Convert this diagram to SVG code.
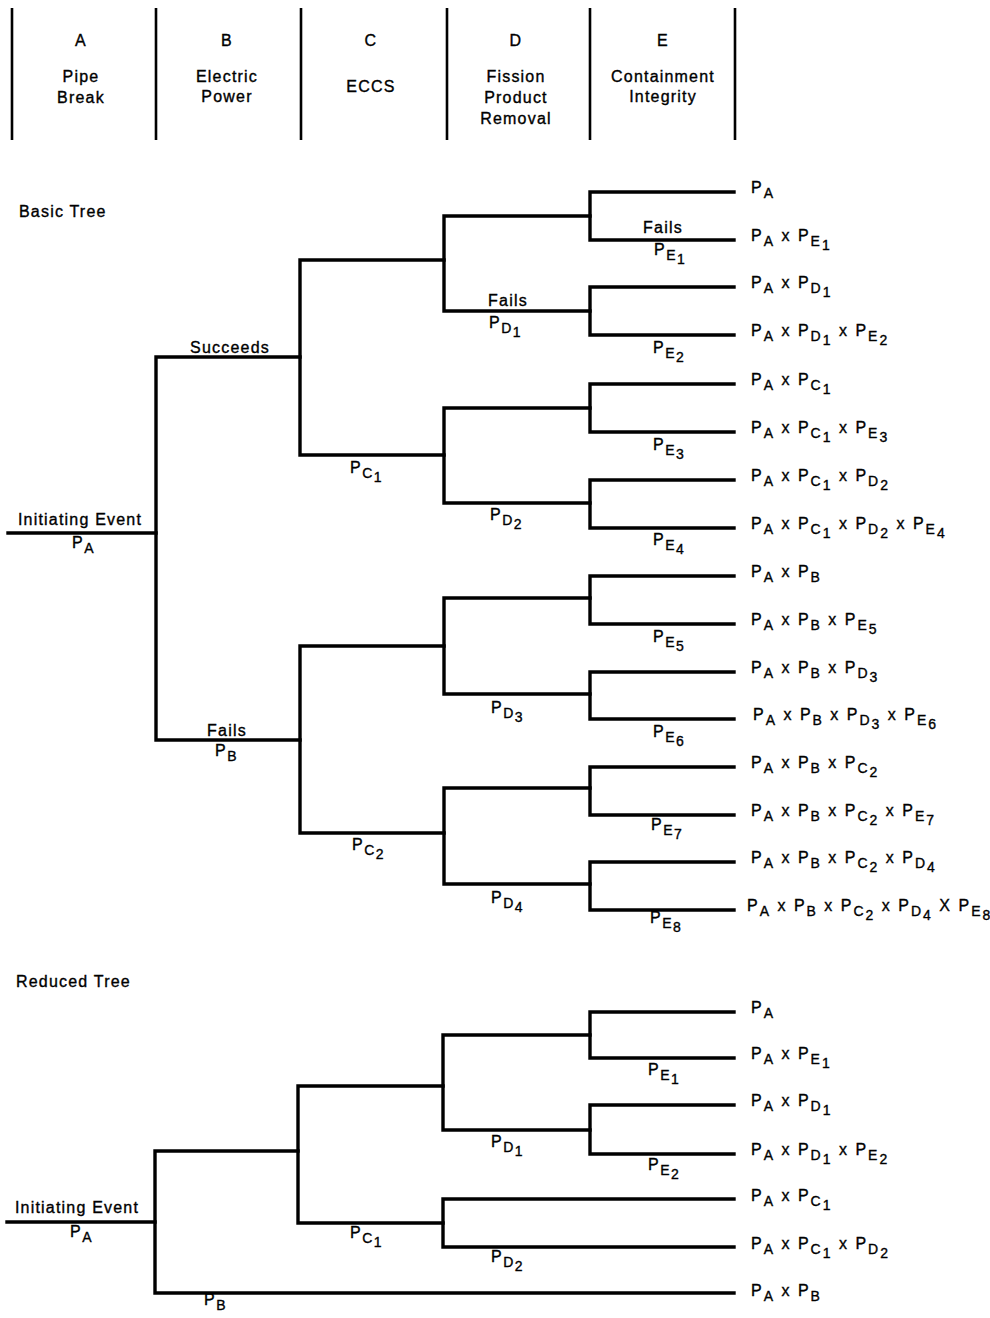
<svg xmlns="http://www.w3.org/2000/svg" width="990" height="1318" viewBox="0 0 990 1318">
<style>
text{font-family:"Liberation Sans",Arial,sans-serif;fill:#000;stroke:#000;stroke-width:0.35}
.t{font-size:16px;letter-spacing:1.2px}
.h{font-size:16px;letter-spacing:1.2px;text-anchor:middle}
.p{font-size:16px;letter-spacing:1.5px}
.o{font-size:16px;letter-spacing:2px}
.s{font-size:14px}
.ln{fill:none;stroke:#000;stroke-width:3.4;stroke-linejoin:miter;stroke-linecap:square}
.col{fill:none;stroke:#000;stroke-width:2.6}
</style>
<rect width="990" height="1318" fill="#fff"/>
<g id="header">
<path class="col" d="M12 8V140M156 8V140M301 8V140M447 8V140M590 8V140M735 8V140"/>
<g id="colA"><text class="h" x="81" y="46">A</text><text class="h" x="81" y="82">Pipe</text><text class="h" x="81" y="103">Break</text></g>
<g id="colB"><text class="h" x="227" y="46">B</text><text class="h" x="227" y="82">Electric</text><text class="h" x="227" y="102">Power</text></g>
<g id="colC"><text class="h" x="371" y="46">C</text><text class="h" x="371" y="92">ECCS</text></g>
<g id="colD"><text class="h" x="516" y="46">D</text><text class="h" x="516" y="82">Fission</text><text class="h" x="516" y="103">Product</text><text class="h" x="516" y="124">Removal</text></g>
<g id="colE"><text class="h" x="663" y="46">E</text><text class="h" x="663" y="82">Containment</text><text class="h" x="663" y="102">Integrity</text></g>
</g>
<g id="connectors">
<path class="ln" d="M8 533H156"/>
<path class="ln" d="M300 357H156V740H300"/>
<path class="ln" d="M444 260H300V455H444"/>
<path class="ln" d="M444 646H300V833H444"/>
<path class="ln" d="M590 216H444V311H590"/>
<path class="ln" d="M590 408H444V503H590"/>
<path class="ln" d="M590 598H444V694H590"/>
<path class="ln" d="M590 788H444V884H590"/>
<path class="ln" d="M734 192H590V240H734"/>
<path class="ln" d="M734 287H590V335H734"/>
<path class="ln" d="M734 384H590V432H734"/>
<path class="ln" d="M734 480H590V528H734"/>
<path class="ln" d="M734 576H590V624H734"/>
<path class="ln" d="M734 672H590V719H734"/>
<path class="ln" d="M734 767H590V815H734"/>
<path class="ln" d="M734 862H590V910H734"/>
<path class="ln" d="M7 1222H155"/>
<path class="ln" d="M298 1151H155V1293H734"/>
<path class="ln" d="M443 1086H298V1223H443"/>
<path class="ln" d="M590 1035H443V1130H590"/>
<path class="ln" d="M734 1012H590V1058H734"/>
<path class="ln" d="M734 1105H590V1154H734"/>
<path class="ln" d="M734 1199H443V1247H734"/>
</g>
<g id="basic-labels">
<text class="t" x="19" y="217">Basic Tree</text>
<g id="b-init"><text class="h" x="80" y="525">Initiating Event</text><text class="p" x="72" y="548">P<tspan class="s" dy="5">A</tspan></text></g>
<g id="b-succ"><text class="h" x="230" y="353">Succeeds</text></g>
<g id="b-fail"><text class="h" x="227" y="736">Fails</text><text class="p" x="215" y="756">P<tspan class="s" dy="5">B</tspan></text></g>
<g id="b-c1"><text class="p" x="350" y="473">P<tspan class="s" dy="5">C</tspan><tspan class="s" dy="4">1</tspan></text></g>
<g id="b-c2"><text class="p" x="352" y="850">P<tspan class="s" dy="5">C</tspan><tspan class="s" dy="4">2</tspan></text></g>
<g id="b-d1"><text class="h" x="508" y="306">Fails</text><text class="p" x="489" y="328">P<tspan class="s" dy="5">D</tspan><tspan class="s" dy="4">1</tspan></text></g>
<g id="b-d2"><text class="p" x="490" y="520">P<tspan class="s" dy="5">D</tspan><tspan class="s" dy="4">2</tspan></text></g>
<g id="b-d3"><text class="p" x="491" y="713">P<tspan class="s" dy="5">D</tspan><tspan class="s" dy="4">3</tspan></text></g>
<g id="b-d4"><text class="p" x="491" y="903">P<tspan class="s" dy="5">D</tspan><tspan class="s" dy="4">4</tspan></text></g>
<g id="b-e1"><text class="h" x="663" y="233">Fails</text><text class="p" x="654" y="255">P<tspan class="s" dy="5">E</tspan><tspan class="s" dy="4">1</tspan></text></g>
<g id="b-e2"><text class="p" x="653" y="353">P<tspan class="s" dy="5">E</tspan><tspan class="s" dy="4">2</tspan></text></g>
<g id="b-e3"><text class="p" x="653" y="450">P<tspan class="s" dy="5">E</tspan><tspan class="s" dy="4">3</tspan></text></g>
<g id="b-e4"><text class="p" x="653" y="545">P<tspan class="s" dy="5">E</tspan><tspan class="s" dy="4">4</tspan></text></g>
<g id="b-e5"><text class="p" x="653" y="642">P<tspan class="s" dy="5">E</tspan><tspan class="s" dy="4">5</tspan></text></g>
<g id="b-e6"><text class="p" x="653" y="737">P<tspan class="s" dy="5">E</tspan><tspan class="s" dy="4">6</tspan></text></g>
<g id="b-e7"><text class="p" x="651" y="830">P<tspan class="s" dy="5">E</tspan><tspan class="s" dy="4">7</tspan></text></g>
<g id="b-e8"><text class="p" x="650" y="923">P<tspan class="s" dy="5">E</tspan><tspan class="s" dy="4">8</tspan></text></g>
</g>
<g id="basic-outcomes">
<g id="o1"><text class="o" x="751" y="193">P<tspan class="s" dy="5">A</tspan></text></g>
<g id="o2"><text class="o" x="751" y="241">P<tspan class="s" dy="5">A</tspan><tspan dy="-5"> x P</tspan><tspan class="s" dy="5">E</tspan><tspan class="s" dy="4">1</tspan></text></g>
<g id="o3"><text class="o" x="751" y="288">P<tspan class="s" dy="5">A</tspan><tspan dy="-5"> x P</tspan><tspan class="s" dy="5">D</tspan><tspan class="s" dy="4">1</tspan></text></g>
<g id="o4"><text class="o" x="751" y="336">P<tspan class="s" dy="5">A</tspan><tspan dy="-5"> x P</tspan><tspan class="s" dy="5">D</tspan><tspan class="s" dy="4">1</tspan><tspan dy="-9"> x P</tspan><tspan class="s" dy="5">E</tspan><tspan class="s" dy="4">2</tspan></text></g>
<g id="o5"><text class="o" x="751" y="385">P<tspan class="s" dy="5">A</tspan><tspan dy="-5"> x P</tspan><tspan class="s" dy="5">C</tspan><tspan class="s" dy="4">1</tspan></text></g>
<g id="o6"><text class="o" x="751" y="433">P<tspan class="s" dy="5">A</tspan><tspan dy="-5"> x P</tspan><tspan class="s" dy="5">C</tspan><tspan class="s" dy="4">1</tspan><tspan dy="-9"> x P</tspan><tspan class="s" dy="5">E</tspan><tspan class="s" dy="4">3</tspan></text></g>
<g id="o7"><text class="o" x="751" y="481">P<tspan class="s" dy="5">A</tspan><tspan dy="-5"> x P</tspan><tspan class="s" dy="5">C</tspan><tspan class="s" dy="4">1</tspan><tspan dy="-9"> x P</tspan><tspan class="s" dy="5">D</tspan><tspan class="s" dy="4">2</tspan></text></g>
<g id="o8"><text class="o" x="751" y="529">P<tspan class="s" dy="5">A</tspan><tspan dy="-5"> x P</tspan><tspan class="s" dy="5">C</tspan><tspan class="s" dy="4">1</tspan><tspan dy="-9"> x P</tspan><tspan class="s" dy="5">D</tspan><tspan class="s" dy="4">2</tspan><tspan dy="-9"> x P</tspan><tspan class="s" dy="5">E</tspan><tspan class="s" dy="4">4</tspan></text></g>
<g id="o9"><text class="o" x="751" y="577">P<tspan class="s" dy="5">A</tspan><tspan dy="-5"> x P</tspan><tspan class="s" dy="5">B</tspan></text></g>
<g id="o10"><text class="o" x="751" y="625">P<tspan class="s" dy="5">A</tspan><tspan dy="-5"> x P</tspan><tspan class="s" dy="5">B</tspan><tspan dy="-5"> x P</tspan><tspan class="s" dy="5">E</tspan><tspan class="s" dy="4">5</tspan></text></g>
<g id="o11"><text class="o" x="751" y="673">P<tspan class="s" dy="5">A</tspan><tspan dy="-5"> x P</tspan><tspan class="s" dy="5">B</tspan><tspan dy="-5"> x P</tspan><tspan class="s" dy="5">D</tspan><tspan class="s" dy="4">3</tspan></text></g>
<g id="o12"><text class="o" x="753" y="720">P<tspan class="s" dy="5">A</tspan><tspan dy="-5"> x P</tspan><tspan class="s" dy="5">B</tspan><tspan dy="-5"> x P</tspan><tspan class="s" dy="5">D</tspan><tspan class="s" dy="4">3</tspan><tspan dy="-9"> x P</tspan><tspan class="s" dy="5">E</tspan><tspan class="s" dy="4">6</tspan></text></g>
<g id="o13"><text class="o" x="751" y="768">P<tspan class="s" dy="5">A</tspan><tspan dy="-5"> x P</tspan><tspan class="s" dy="5">B</tspan><tspan dy="-5"> x P</tspan><tspan class="s" dy="5">C</tspan><tspan class="s" dy="4">2</tspan></text></g>
<g id="o14"><text class="o" x="751" y="816">P<tspan class="s" dy="5">A</tspan><tspan dy="-5"> x P</tspan><tspan class="s" dy="5">B</tspan><tspan dy="-5"> x P</tspan><tspan class="s" dy="5">C</tspan><tspan class="s" dy="4">2</tspan><tspan dy="-9"> x P</tspan><tspan class="s" dy="5">E</tspan><tspan class="s" dy="4">7</tspan></text></g>
<g id="o15"><text class="o" x="751" y="863">P<tspan class="s" dy="5">A</tspan><tspan dy="-5"> x P</tspan><tspan class="s" dy="5">B</tspan><tspan dy="-5"> x P</tspan><tspan class="s" dy="5">C</tspan><tspan class="s" dy="4">2</tspan><tspan dy="-9"> x P</tspan><tspan class="s" dy="5">D</tspan><tspan class="s" dy="4">4</tspan></text></g>
<g id="o16"><text class="o" x="747" y="911">P<tspan class="s" dy="5">A</tspan><tspan dy="-5"> x P</tspan><tspan class="s" dy="5">B</tspan><tspan dy="-5"> x P</tspan><tspan class="s" dy="5">C</tspan><tspan class="s" dy="4">2</tspan><tspan dy="-9"> x P</tspan><tspan class="s" dy="5">D</tspan><tspan class="s" dy="4">4</tspan><tspan dy="-9"> X P</tspan><tspan class="s" dy="5">E</tspan><tspan class="s" dy="4">8</tspan></text></g>
</g>
<g id="reduced-labels">
<text class="t" x="16" y="987">Reduced Tree</text>
<g id="r-init"><text class="h" x="77" y="1213">Initiating Event</text><text class="p" x="70" y="1237">P<tspan class="s" dy="5">A</tspan></text></g>
<g id="r-c1"><text class="p" x="350" y="1238">P<tspan class="s" dy="5">C</tspan><tspan class="s" dy="4">1</tspan></text></g>
<g id="r-b"><text class="p" x="204" y="1305">P<tspan class="s" dy="5">B</tspan></text></g>
<g id="r-d1"><text class="p" x="491" y="1147">P<tspan class="s" dy="5">D</tspan><tspan class="s" dy="4">1</tspan></text></g>
<g id="r-d2"><text class="p" x="491" y="1262">P<tspan class="s" dy="5">D</tspan><tspan class="s" dy="4">2</tspan></text></g>
<g id="r-e1"><text class="p" x="648" y="1075">P<tspan class="s" dy="5">E</tspan><tspan class="s" dy="4">1</tspan></text></g>
<g id="r-e2"><text class="p" x="648" y="1170">P<tspan class="s" dy="5">E</tspan><tspan class="s" dy="4">2</tspan></text></g>
</g>
<g id="reduced-outcomes">
<g id="r1"><text class="o" x="751" y="1013">P<tspan class="s" dy="5">A</tspan></text></g>
<g id="r2"><text class="o" x="751" y="1059">P<tspan class="s" dy="5">A</tspan><tspan dy="-5"> x P</tspan><tspan class="s" dy="5">E</tspan><tspan class="s" dy="4">1</tspan></text></g>
<g id="r3"><text class="o" x="751" y="1106">P<tspan class="s" dy="5">A</tspan><tspan dy="-5"> x P</tspan><tspan class="s" dy="5">D</tspan><tspan class="s" dy="4">1</tspan></text></g>
<g id="r4"><text class="o" x="751" y="1155">P<tspan class="s" dy="5">A</tspan><tspan dy="-5"> x P</tspan><tspan class="s" dy="5">D</tspan><tspan class="s" dy="4">1</tspan><tspan dy="-9"> x P</tspan><tspan class="s" dy="5">E</tspan><tspan class="s" dy="4">2</tspan></text></g>
<g id="r5"><text class="o" x="751" y="1201">P<tspan class="s" dy="5">A</tspan><tspan dy="-5"> x P</tspan><tspan class="s" dy="5">C</tspan><tspan class="s" dy="4">1</tspan></text></g>
<g id="r6"><text class="o" x="751" y="1249">P<tspan class="s" dy="5">A</tspan><tspan dy="-5"> x P</tspan><tspan class="s" dy="5">C</tspan><tspan class="s" dy="4">1</tspan><tspan dy="-9"> x P</tspan><tspan class="s" dy="5">D</tspan><tspan class="s" dy="4">2</tspan></text></g>
<g id="r7"><text class="o" x="751" y="1296">P<tspan class="s" dy="5">A</tspan><tspan dy="-5"> x P</tspan><tspan class="s" dy="5">B</tspan></text></g>
</g>
</svg>
